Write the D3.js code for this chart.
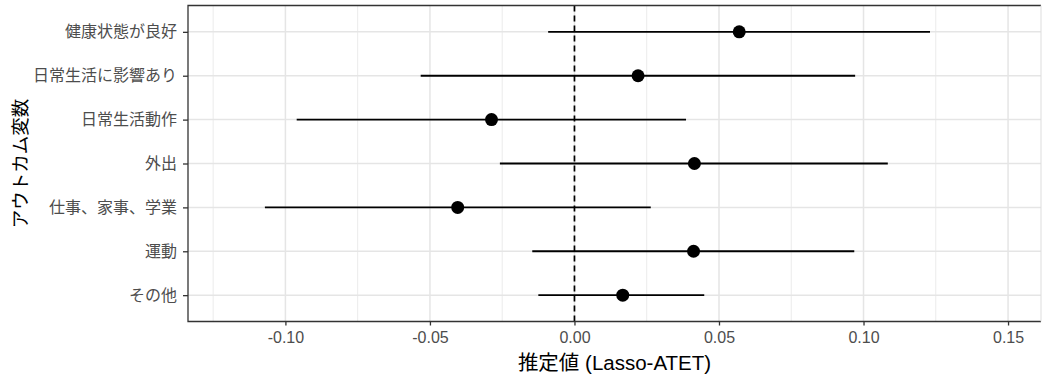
<!DOCTYPE html>
<html>
<head>
<meta charset="utf-8">
<script src="https://cdn.jsdelivr.net/npm/d3@7"></script>
<style>
  body { margin: 0; background: #fff; }
  text { font-family: "Noto Sans CJK JP", "Liberation Sans", sans-serif; }
</style>
</head>
<body>
<script>
// outcome variables, top to bottom
var outcomes = ["健康状態が良好", "日常生活に影響あり", "日常生活動作", "外出", "仕事、家事、学業", "運動", "その他"];
var estimate = [0.057, 0.022, -0.0287, 0.0415, -0.0404, 0.0412, 0.0167];
var ciLow    = [-0.0091, -0.0532, -0.0961, -0.0258, -0.1071, -0.0146, -0.0125];
var ciHigh   = [0.123, 0.0971, 0.0386, 0.1084, 0.0264, 0.0968, 0.0449];
var xTicks   = [-0.10, -0.05, 0.00, 0.05, 0.10, 0.15];
var xMinor   = [-0.125, -0.075, -0.025, 0.025, 0.075, 0.125];

var data = outcomes.map(function(d, i) {
  return { name: d, est: estimate[i], lo: ciLow[i], hi: ciHigh[i] };
});

//Width and height
var w = 1045;
var h = 378;
var padL = 188, padR = 1041, padT = 5.5, padB = 321.5;

var svg = d3.select("body")
            .append("svg")
            .attr("width", w)
            .attr("height", h);

var x = d3.scaleLinear()
          .domain([-0.1337, 0.1614])
          .range([padL, padR]);

// discrete axis with 0.6 expansion, like ggplot
var y = d3.scalePoint()
          .domain(outcomes)
          .range([padT, padB])
          .padding(0.6);

// grid
svg.selectAll("line.minor")
   .data(xMinor)
   .enter()
   .append("line")
   .attr("x1", function(d) { return x(d); })
   .attr("x2", function(d) { return x(d); })
   .attr("y1", padT)
   .attr("y2", padB)
   .attr("stroke", "#ebebeb")
   .attr("stroke-width", 1);

svg.selectAll("line.major")
   .data(xTicks)
   .enter()
   .append("line")
   .attr("x1", function(d) { return x(d); })
   .attr("x2", function(d) { return x(d); })
   .attr("y1", padT)
   .attr("y2", padB)
   .attr("stroke", "#e5e5e5")
   .attr("stroke-width", 1.5);

svg.selectAll("line.hgrid")
   .data(outcomes)
   .enter()
   .append("line")
   .attr("x1", padL)
   .attr("x2", padR)
   .attr("y1", function(d) { return y(d); })
   .attr("y2", function(d) { return y(d); })
   .attr("stroke", "#e5e5e5")
   .attr("stroke-width", 1.5);

// zero reference line
svg.append("line")
   .attr("x1", x(0))
   .attr("x2", x(0))
   .attr("y1", padT)
   .attr("y2", padB)
   .attr("stroke", "#000")
   .attr("stroke-width", 1.7)
   .attr("stroke-dasharray", "6,4");

// intervals
svg.selectAll("line.ci")
   .data(data)
   .enter()
   .append("line")
   .attr("x1", function(d) { return x(d.lo); })
   .attr("x2", function(d) { return x(d.hi); })
   .attr("y1", function(d) { return y(d.name); })
   .attr("y2", function(d) { return y(d.name); })
   .attr("stroke", "#000")
   .attr("stroke-width", 1.9);

svg.selectAll("circle")
   .data(data)
   .enter()
   .append("circle")
   .attr("cx", function(d) { return x(d.est); })
   .attr("cy", function(d) { return y(d.name); })
   .attr("r", 6.5)
   .attr("fill", "#000");

// panel border (right side cut off in the original)
svg.append("path")
   .attr("d", "M" + padR + "," + padT + "H" + padL + "V" + padB + "H" + padR)
   .attr("fill", "none")
   .attr("stroke", "#333")
   .attr("stroke-width", 1.3);
svg.append("line")
   .attr("x1", padR).attr("x2", padR)
   .attr("y1", padT).attr("y2", padB)
   .attr("stroke", "#ddd")
   .attr("stroke-width", 1);

// axes
var xAxis = d3.axisBottom(x)
              .tickValues(xTicks)
              .tickFormat(function(d) { return d.toFixed(2); })
              .tickSize(4)
              .tickPadding(6);
var gx = svg.append("g")
            .attr("transform", "translate(0," + padB + ")")
            .call(xAxis);
gx.select(".domain").remove();
gx.selectAll("line").attr("stroke", "#333").attr("stroke-width", 1.3);
gx.selectAll("text")
  .attr("fill", "#4d4d4d")
  .style("font-family", "'Liberation Sans', sans-serif")
  .style("font-size", "16px");

var yAxis = d3.axisLeft(y)
              .tickSize(5)
              .tickPadding(6);
var gy = svg.append("g")
            .attr("transform", "translate(" + padL + ",0)")
            .call(yAxis);
gy.select(".domain").remove();
gy.selectAll("line").attr("stroke", "#333").attr("stroke-width", 1.3);
gy.selectAll("text")
  .attr("fill", "#4d4d4d")
  .style("font-size", "16px");

// titles
svg.append("text")
   .attr("x", (padL + padR) / 2)
   .attr("y", 370)
   .attr("text-anchor", "middle")
   .style("font-family", "'Liberation Sans', 'Noto Sans CJK JP', sans-serif")
   .style("font-size", "20.5px")
   .attr("fill", "#000")
   .text("推定値 (Lasso-ATET)");

svg.append("text")
   .attr("transform", "translate(27," + ((padT + padB) / 2) + ") rotate(-90)")
   .attr("text-anchor", "middle")
   .style("font-size", "18.5px")
   .attr("fill", "#000")
   .text("アウトカム変数");
</script>
</body>
</html>
